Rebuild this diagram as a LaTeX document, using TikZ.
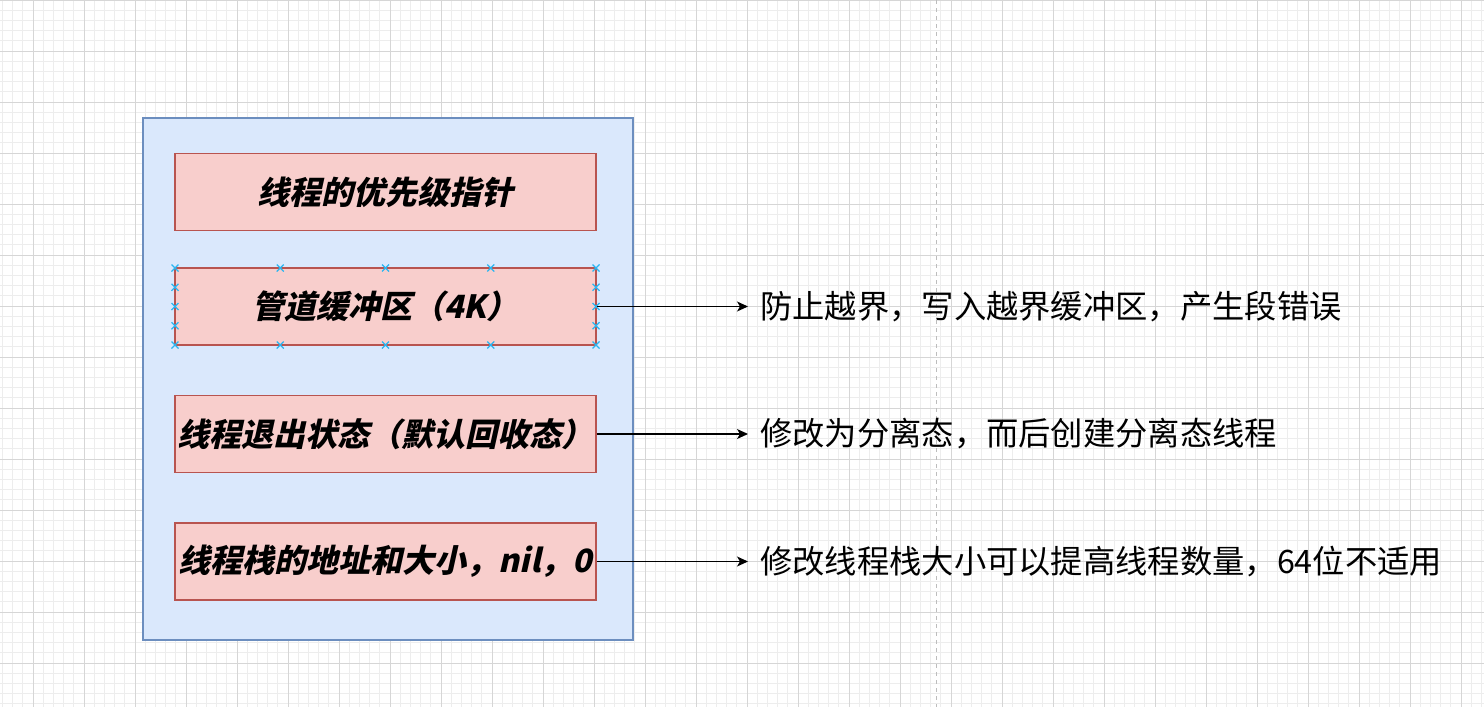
\documentclass[tikz,border=0pt]{standalone}
\usepackage{fontspec}
\setmainfont{Noto Sans CJK SC}
\newfontfamily\cjk{Noto Sans CJK SC}
\newfontfamily\cjkbi{Noto Sans CJK SC}[BoldFeatures={FakeSlant=0.22}]
\usetikzlibrary{arrows.meta}
\definecolor{gridminor}{HTML}{EDEDED}
\definecolor{gridmajor}{HTML}{D6D6D6}
\definecolor{contfill}{HTML}{DAE8FC}
\definecolor{contdraw}{HTML}{6C8EBF}
\definecolor{boxfill}{HTML}{F8CECC}
\definecolor{boxdraw}{HTML}{B85450}
\definecolor{handle}{HTML}{29B6F2}
\definecolor{guide}{HTML}{BDBDBD}
\tikzset{
  container/.style={draw=contdraw, fill=contfill, line width=1.2pt, minimum width=490pt, minimum height=522pt, inner sep=0pt},
  pinkbox/.style={draw=boxdraw, fill=boxfill, line width=1.2pt, minimum width=421pt, minimum height=77pt, inner sep=0pt,
    font={\cjkbi\bfseries\fontsize{32}{36}\selectfont}},
  label/.style={anchor=west, inner xsep=12pt, inner ysep=0pt, font={\cjk\fontsize{32.3}{36}\selectfont}},
  arr/.style={line width=1.2pt, -{Stealth[length=11pt, width=10pt, inset=3pt]}},
  handlemark/.style={draw=handle, line width=1.3pt},
}
\begin{document}
\begin{tikzpicture}[x=1pt, y=-1pt]
\useasboundingbox (0,0) rectangle (1484,707);
\clip (0,0) rectangle (1484,707);
\fill[white] (0,0) rectangle (1484,707);
% minor grid
\foreach \i in {0,...,148} {
  \draw[gridminor, line width=1pt] ({-18+10.2*\i},0) -- ({-18+10.2*\i},707);
}
\foreach \j in {0,...,70} {
  \draw[gridminor, line width=1pt] (0,{10.2*\j}) -- (1484,{10.2*\j});
}
% major grid
\foreach \i in {-1,...,29} {
  \draw[gridmajor, line width=1pt] ({33+51*\i},0) -- ({33+51*\i},707);
}
\foreach \j in {0,...,14} {
  \draw[gridmajor, line width=1pt] (0,{51*\j}) -- (1484,{51*\j});
}
% dashed guide
\coordinate (gtop) at (936,0);
\coordinate (gbot) at (936,707);
\draw[guide, line width=1pt, dash pattern=on 4pt off 4pt] (gtop) -- (gbot);

% container
\node[container] (cont) at (388,379) {};

% boxes
\node[pinkbox] (b1) at (385.5,192) {线程的优先级指针};
\node[pinkbox] (b2) at (385.5,306.5) {管道缓冲区（4K）};
\node[pinkbox] (b3) at (385.5,434) {线程退出状态（默认回收态）};
\node[pinkbox] (b4) at (385.5,561.5) {线程栈的地址和大小，nil，0};

% selection handles on b2
\foreach \hx in {175,280.25,385.5,490.75,596} {
  \foreach \hy in {268,345} {
    \draw[handlemark] ({\hx-3.5},{\hy-3.5}) -- ({\hx+3.5},{\hy+3.5}) ({\hx-3.5},{\hy+3.5}) -- ({\hx+3.5},{\hy-3.5});
  }
}
\foreach \hx in {175,596} {
  \foreach \hy in {287.25,306.5,325.75} {
    \draw[handlemark] ({\hx-3.5},{\hy-3.5}) -- ({\hx+3.5},{\hy+3.5}) ({\hx-3.5},{\hy+3.5}) -- ({\hx+3.5},{\hy-3.5});
  }
}

% labels
\node[label] (l2) at (748,306.5) {防止越界，写入越界缓冲区，产生段错误};
\node[label] (l3) at (748,434) {修改为分离态，而后创建分离态线程};
\node[label] (l4) at (748,561.5) {修改线程栈大小可以提高线程数量，64位不适用};

% arrows
\draw[arr] (b2.east) -- (l2.west);
\draw[arr] (b3.east) -- (l3.west);
\draw[arr] (b4.east) -- (l4.west);
\end{tikzpicture}
\end{document}
